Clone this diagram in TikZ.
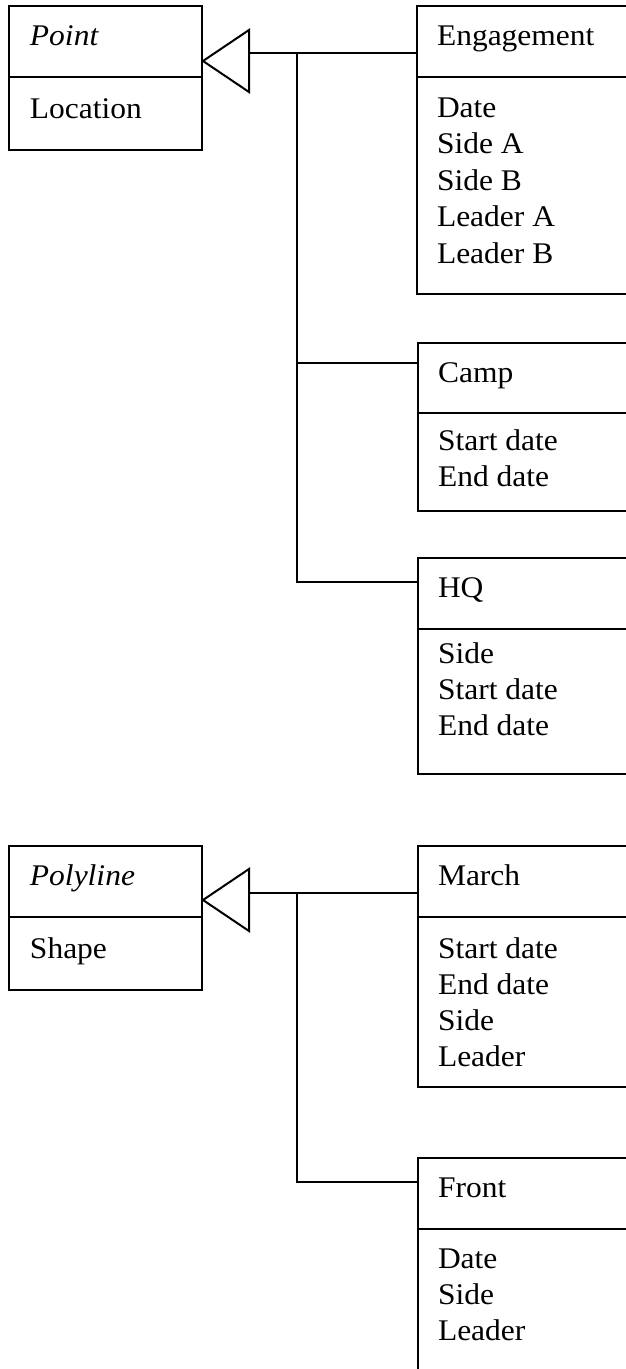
\documentclass[tikz,border=0pt]{standalone}
\usepackage{fontspec}
\setmainfont{Liberation Serif}
\usepackage{graphicx}
\newcommand{\wtxt}[1]{\scalebox{1.05}[1]{#1}}
\begin{document}
\begin{tikzpicture}[x=1pt,y=-1pt,line width=2pt,
  clsbox/.style={draw,rectangle,anchor=north west,inner sep=0pt},
  txt/.style={anchor=base west,inner sep=0pt,font=\fontsize{30}{36}\selectfont},
  gen/.style={draw,line join=miter}]
\useasboundingbox (0,0) rectangle (626,1369);
\clip (0,0) rectangle (626,1369);

% ---------- upper group ----------
\node[clsbox,minimum width=193pt,minimum height=144pt] (point) at (8,5) {};
\draw (point.west |- 0,77) -- (point.east |- 0,77);
\node[txt] (pointn) at (29,45) {\wtxt{\textit{Point}}};
\node[txt] (pointa) at (29,118) {\wtxt{Location}};

\node[clsbox,minimum width=260pt,minimum height=288pt] (eng) at (416,5) {};
\draw (eng.west |- 0,77) -- (eng.east |- 0,77);
\node[txt] (engn) at (436,45) {\wtxt{Engagement}};
\node[txt] (enga1) at (436,117) {\wtxt{Date}};
\node[txt] (enga2) at (436,153.5) {\wtxt{Side A}};
\node[txt] (enga3) at (436,190) {\wtxt{Side B}};
\node[txt] (enga4) at (436,226.5) {\wtxt{Leader A}};
\node[txt] (enga5) at (436,263) {\wtxt{Leader B}};

\node[clsbox,minimum width=260pt,minimum height=168pt] (camp) at (417,342) {};
\draw (camp.west |- 0,413) -- (camp.east |- 0,413);
\node[txt] (campn) at (437,382) {\wtxt{Camp}};
\node[txt] (campa1) at (437,450) {\wtxt{Start date}};
\node[txt] (campa2) at (437,486) {\wtxt{End date}};

\node[clsbox,minimum width=260pt,minimum height=216pt] (hq) at (417,557) {};
\draw (hq.west |- 0,629) -- (hq.east |- 0,629);
\node[txt] (hqn) at (437,597) {\wtxt{HQ}};
\node[txt] (hqa1) at (437,663) {\wtxt{Side}};
\node[txt] (hqa2) at (437,699) {\wtxt{Start date}};
\node[txt] (hqa3) at (437,735) {\wtxt{End date}};

% generalisation arrow
\draw[gen] (point.east |- 0,61) -- (249,30) -- (249,92) -- cycle;
\coordinate (ptri) at (249,53);
\coordinate (pj) at (297,53);
\coordinate (pmid) at (297,363);
\coordinate (pbot) at (297,582);
\draw (ptri) -- (eng.west |- ptri);
\draw (pj) -- (pbot) -- (hq.west |- pbot);
\draw (pmid) -- (camp.west |- pmid);

% ---------- lower group ----------
\node[clsbox,minimum width=193pt,minimum height=144pt] (poly) at (8,845) {};
\draw (poly.west |- 0,917) -- (poly.east |- 0,917);
\node[txt] (polyn) at (29,885) {\wtxt{\textit{Polyline}}};
\node[txt] (polya) at (29,958) {\wtxt{Shape}};

\node[clsbox,minimum width=260pt,minimum height=241pt] (march) at (417,845) {};
\draw (march.west |- 0,917) -- (march.east |- 0,917);
\node[txt] (marchn) at (437,885) {\wtxt{March}};
\node[txt] (marcha1) at (437,958) {\wtxt{Start date}};
\node[txt] (marcha2) at (437,994) {\wtxt{End date}};
\node[txt] (marcha3) at (437,1030) {\wtxt{Side}};
\node[txt] (marcha4) at (437,1066) {\wtxt{Leader}};

\node[clsbox,minimum width=260pt,minimum height=260pt] (front) at (417,1157) {};
\draw (front.west |- 0,1229) -- (front.east |- 0,1229);
\node[txt] (frontn) at (437,1197) {\wtxt{Front}};
\node[txt] (fronta1) at (437,1268) {\wtxt{Date}};
\node[txt] (fronta2) at (437,1304) {\wtxt{Side}};
\node[txt] (fronta3) at (437,1340) {\wtxt{Leader}};

\draw[gen] (poly.east |- 0,900) -- (249,869) -- (249,931) -- cycle;
\coordinate (ltri) at (249,893);
\coordinate (lj) at (297,893);
\coordinate (lbot) at (297,1182);
\draw (ltri) -- (march.west |- ltri);
\draw (lj) -- (lbot) -- (front.west |- lbot);
\end{tikzpicture}
\end{document}
